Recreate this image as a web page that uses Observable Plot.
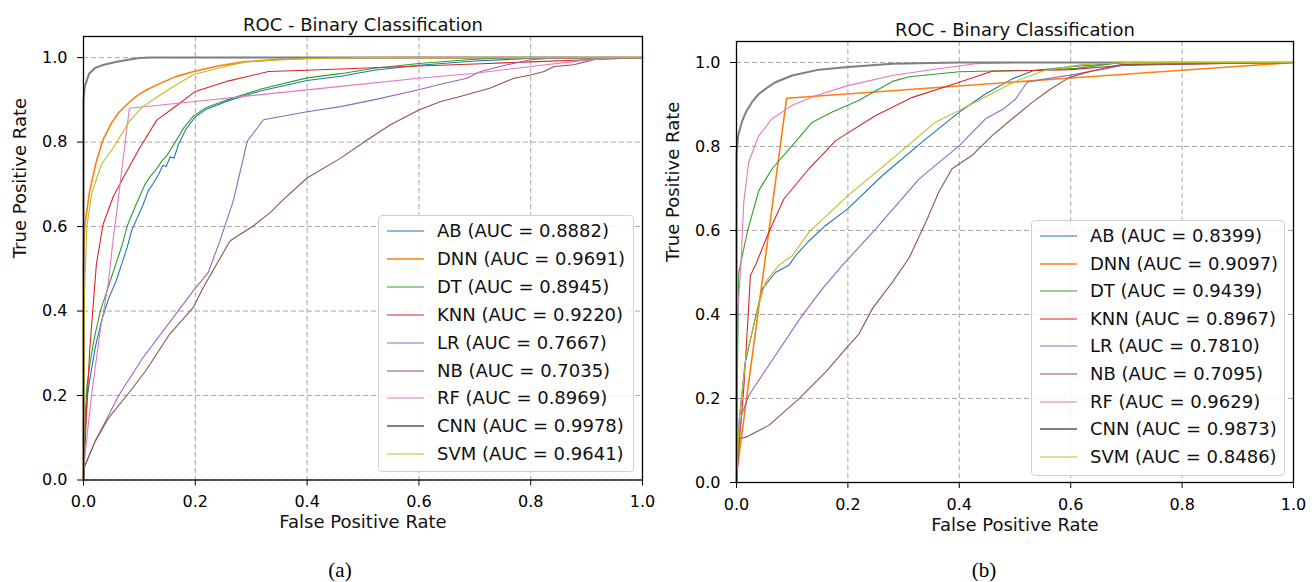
<!DOCTYPE html>
<html>
<head>
<meta charset="utf-8">
<script src="https://cdn.jsdelivr.net/npm/d3@7"></script>
<script src="https://cdn.jsdelivr.net/npm/@observablehq/plot@0.6"></script>
<style>
  html, body { margin: 0; padding: 0; background: #fff; }
  #root { position: relative; width: 1315px; height: 582px; overflow: hidden; font-family: "DejaVu Sans", sans-serif; }
  .panel { position: absolute; top: 0; }
  .legend { position: absolute; border: 1px solid #d0d0d0; border-radius: 4px; background: rgba(255,255,255,0.85); box-sizing: border-box; }
  .legrow { position: absolute; left: 0; height: 20px; width: 100%; }
  .legrow svg { position: absolute; left: 0; top: 0; }
  .legrow span { position: absolute; left: 58px; top: 0; line-height: 20px; font-size: 18px; color: #111; white-space: nowrap; }
  .caption { position: absolute; font-family: "Liberation Serif", "Times New Roman", serif; font-size: 21px; color: #000; transform: translate(-50%, -50%); }
</style>
</head>
<body>
<div id="root"></div>
<script>
// ---------- data ----------
const models = ["AB", "DNN", "DT", "KNN", "LR", "NB", "RF", "CNN", "SVM"];
const colors = ["#1f77b4", "#ff7f0e", "#2ca02c", "#d62728", "#9467bd", "#8c564b", "#e377c2", "#7f7f7f", "#bcbd22"];
const widths = [1.1, 1.6, 1.1, 1.1, 1.1, 1.1, 1.1, 2, 1.1];
const aucA = ["0.8882", "0.9691", "0.8945", "0.9220", "0.7667", "0.7035", "0.8969", "0.9978", "0.9641"];
const aucB = ["0.8399", "0.9097", "0.9439", "0.8967", "0.7810", "0.7095", "0.9629", "0.9873", "0.8486"];
const xTicks = [0, 0.2, 0.4, 0.6, 0.8, 1.0];
const yTicks = [0, 0.2, 0.4, 0.6, 0.8, 1.0];
const titleText = "ROC - Binary Classification";
const xLabel = "False Positive Rate";
const yLabel = "True Positive Rate";

// Panel (a) ROC points [FPR, TPR]
const a_AB = [[0,0],[0.003,0.12],[0.007,0.2],[0.014,0.26],[0.022,0.32],[0.033,0.38],[0.045,0.43],[0.058,0.47],[0.068,0.51],[0.078,0.55],[0.086,0.59],[0.096,0.62],[0.106,0.65],[0.116,0.685],[0.126,0.705],[0.135,0.725],[0.142,0.745],[0.148,0.742],[0.155,0.765],[0.162,0.762],[0.17,0.795],[0.183,0.83],[0.2,0.86],[0.22,0.878],[0.257,0.897],[0.316,0.921],[0.4,0.946],[0.46,0.956],[0.52,0.97],[0.6,0.982],[0.7,0.992],[0.8,0.998],[1,1]];
const a_DNN = [[0,0],[0,0.5],[0.002,0.6],[0.011,0.684],[0.023,0.754],[0.035,0.806],[0.05,0.845],[0.063,0.87],[0.08,0.892],[0.096,0.91],[0.115,0.925],[0.137,0.939],[0.165,0.955],[0.197,0.967],[0.24,0.98],[0.286,0.99],[0.35,0.996],[0.45,0.999],[0.55,1],[1,1]];
const a_DT = [[0,0],[0.003,0.15],[0.006,0.22],[0.012,0.28],[0.02,0.34],[0.03,0.4],[0.04,0.44],[0.05,0.48],[0.06,0.52],[0.07,0.56],[0.078,0.6],[0.09,0.64],[0.1,0.67],[0.11,0.7],[0.12,0.72],[0.13,0.735],[0.14,0.755],[0.15,0.77],[0.164,0.8],[0.18,0.835],[0.197,0.862],[0.22,0.882],[0.257,0.9],[0.316,0.925],[0.4,0.952],[0.46,0.962],[0.52,0.975],[0.6,0.986],[0.7,0.996],[0.76,1],[1,1]];
const a_KNN = [[0,0],[0.005,0.148],[0.011,0.306],[0.023,0.51],[0.035,0.605],[0.053,0.67],[0.072,0.718],[0.1,0.785],[0.131,0.852],[0.165,0.885],[0.2,0.92],[0.26,0.945],[0.331,0.967],[0.4,0.97],[0.495,0.975],[0.6,0.98],[0.7,0.985],[0.8,0.99],[0.9,0.995],[1,1]];
const a_LR = [[0,0],[0,0.026],[0.021,0.092],[0.063,0.2],[0.105,0.287],[0.16,0.384],[0.196,0.447],[0.223,0.491],[0.244,0.566],[0.268,0.661],[0.293,0.802],[0.322,0.853],[0.4,0.872],[0.46,0.884],[0.519,0.9],[0.6,0.924],[0.633,0.935],[0.686,0.951],[0.71,0.967],[0.758,0.983],[0.8,0.995],[0.85,1],[1,1]];
const a_NB = [[0,0],[0,0.026],[0.021,0.092],[0.045,0.147],[0.081,0.206],[0.111,0.258],[0.154,0.345],[0.196,0.408],[0.214,0.455],[0.262,0.566],[0.304,0.602],[0.334,0.633],[0.355,0.661],[0.4,0.715],[0.46,0.762],[0.504,0.802],[0.549,0.841],[0.6,0.876],[0.639,0.896],[0.674,0.908],[0.728,0.928],[0.77,0.951],[0.8,0.959],[0.824,0.967],[0.842,0.979],[0.877,0.983],[0.913,0.995],[0.937,0.998],[1,1]];
const a_RF = [[0,0],[0.002,0.05],[0.008,0.125],[0.017,0.227],[0.029,0.345],[0.044,0.463],[0.054,0.58],[0.06,0.64],[0.07,0.75],[0.082,0.88],[0.2,0.896],[0.3,0.91],[0.46,0.932],[0.6,0.951],[0.7,0.963],[0.8,0.979],[0.88,0.991],[0.95,1],[1,1]];
const a_CNN = [[0,0],[0,0.9],[0.002,0.93],[0.01,0.962],[0.02,0.975],[0.036,0.983],[0.06,0.99],[0.08,0.995],[0.1,0.999],[0.12,1],[1,1]];
const a_SVM = [[0,0],[0.002,0.45],[0.006,0.6],[0.015,0.68],[0.032,0.747],[0.053,0.786],[0.082,0.849],[0.106,0.884],[0.13,0.905],[0.155,0.927],[0.197,0.96],[0.24,0.975],[0.29,0.99],[0.4,0.998],[0.5,1],[1,1]];

// Panel (b) ROC points [FPR, TPR]
const b_AB = [[0,0],[0.005,0.15],[0.015,0.28],[0.032,0.382],[0.046,0.461],[0.07,0.5],[0.094,0.517],[0.106,0.54],[0.13,0.575],[0.16,0.612],[0.2,0.652],[0.262,0.731],[0.34,0.818],[0.4,0.882],[0.447,0.925],[0.495,0.961],[0.534,0.981],[0.6,0.99],[0.7,1],[1,1]];
const b_DNN = [[0,0],[0.001,0.03],[0.09,0.915],[0.6,0.963],[1,1]];
const b_DT = [[0,0],[0.002,0.3],[0.004,0.5],[0.02,0.6],[0.04,0.695],[0.064,0.747],[0.1,0.802],[0.136,0.858],[0.172,0.882],[0.22,0.91],[0.28,0.955],[0.31,0.966],[0.4,0.978],[0.5,0.981],[0.534,0.981],[0.612,0.986],[0.69,1],[1,1]];
const b_KNN = [[0,0],[0.005,0.096],[0.013,0.223],[0.022,0.421],[0.025,0.493],[0.034,0.517],[0.058,0.596],[0.085,0.675],[0.13,0.747],[0.178,0.814],[0.25,0.874],[0.316,0.917],[0.4,0.953],[0.459,0.979],[0.528,0.981],[0.6,0.983],[0.69,0.993],[0.8,0.996],[1,1]];
const b_LR = [[0,0],[0,0.05],[0.009,0.16],[0.022,0.207],[0.058,0.279],[0.118,0.398],[0.154,0.461],[0.19,0.517],[0.25,0.604],[0.328,0.723],[0.4,0.802],[0.447,0.866],[0.48,0.89],[0.501,0.913],[0.522,0.953],[0.55,0.96],[0.6,0.97],[0.7,0.995],[1,1]];
const b_NB = [[0,0],[0.004,0.104],[0.017,0.108],[0.058,0.136],[0.112,0.199],[0.16,0.263],[0.196,0.318],[0.22,0.354],[0.244,0.414],[0.28,0.477],[0.31,0.535],[0.34,0.62],[0.363,0.691],[0.387,0.747],[0.423,0.779],[0.459,0.826],[0.495,0.866],[0.528,0.902],[0.564,0.937],[0.597,0.964],[0.636,0.979],[0.69,0.995],[1,1]];
const b_RF = [[0,0],[0.002,0.4],[0.008,0.52],[0.013,0.667],[0.022,0.763],[0.04,0.826],[0.064,0.866],[0.1,0.898],[0.142,0.921],[0.2,0.945],[0.28,0.969],[0.34,0.981],[0.429,0.997],[0.5,1],[1,1]];
const b_CNN = [[0,0],[0,0.78],[0.003,0.826],[0.01,0.86],[0.017,0.882],[0.028,0.906],[0.04,0.925],[0.055,0.94],[0.07,0.953],[0.1,0.969],[0.148,0.983],[0.2,0.989],[0.28,0.997],[0.4,1],[1,1]];
const b_SVM = [[0,0],[0.005,0.15],[0.017,0.3],[0.04,0.421],[0.052,0.477],[0.076,0.517],[0.1,0.54],[0.13,0.596],[0.2,0.683],[0.28,0.771],[0.357,0.858],[0.4,0.886],[0.45,0.92],[0.5,0.955],[0.55,0.98],[0.62,0.995],[0.7,1],[1,1]];

const seriesA = [a_AB, a_DNN, a_DT, a_KNN, a_LR, a_NB, a_RF, a_CNN, a_SVM];
const seriesB = [b_AB, b_DNN, b_DT, b_KNN, b_LR, b_NB, b_RF, b_CNN, b_SVM];

// ---------- drawing ----------
const root = document.getElementById("root");

function makePanel(cfg) {
  const marks = [
    Plot.gridX(xTicks, {stroke: "#a8a8a8", strokeOpacity: 1, strokeWidth: 1, strokeDasharray: "5,3"}),
    Plot.gridY(yTicks, {stroke: "#a8a8a8", strokeOpacity: 1, strokeWidth: 1, strokeDasharray: "5,3"}),
  ];
  cfg.series.forEach((pts, i) => {
    marks.push(Plot.line(pts, {x: d => d[0], y: d => d[1], stroke: colors[i], strokeWidth: widths[i], curve: "linear"}));
  });
  marks.push(
    Plot.frame({stroke: "#000", strokeWidth: 1.3}),
    Plot.axisX({ticks: xTicks, tickFormat: d => d.toFixed(1), tickSize: 6, tickPadding: 10, label: null, fontSize: 16, stroke: "#000"}),
    Plot.axisY({ticks: yTicks, tickFormat: d => d.toFixed(1), tickSize: 6, tickPadding: 10, label: null, fontSize: 16, stroke: "#000"}),
    Plot.text([titleText], {text: d => d, frameAnchor: "top", dy: -18, fontSize: 18, fill: "#111"}),
    Plot.text([xLabel], {text: d => d, frameAnchor: "bottom", dy: 48, fontSize: 18, fill: "#111"}),
    Plot.text([yLabel], {text: d => d, frameAnchor: "left", dx: -63, rotate: -90, fontSize: 18, fill: "#111"})
  );
  const svg = Plot.plot({
    width: cfg.width,
    height: 545,
    marginLeft: cfg.ml,
    marginRight: cfg.mr,
    marginTop: cfg.mt,
    marginBottom: cfg.mb,
    x: {domain: [0, 1]},
    y: {domain: [0, 1.05]},
    style: {fontFamily: "DejaVu Sans", fontSize: "16px", color: "#000", background: "transparent", overflow: "visible"},
    marks
  });
  const wrap = document.createElement("div");
  wrap.className = "panel";
  wrap.style.left = cfg.left + "px";
  wrap.appendChild(svg);
  root.appendChild(wrap);

  // legend
  const leg = document.createElement("div");
  leg.className = "legend";
  leg.style.left = cfg.leg.left + "px";
  leg.style.top = cfg.leg.top + "px";
  leg.style.width = cfg.leg.w + "px";
  leg.style.height = cfg.leg.h + "px";
  models.forEach((m, i) => {
    const row = document.createElement("div");
    row.className = "legrow";
    row.style.top = (cfg.leg.first - 10 + i * cfg.leg.step) + "px";
    row.innerHTML = `<svg width="50" height="20"><line x1="8" x2="45" y1="10" y2="10" stroke="${colors[i]}" stroke-width="${widths[i]}"/></svg><span>${m} (AUC = ${cfg.auc[i]})</span>`;
    leg.appendChild(row);
  });
  root.appendChild(leg);

  const cap = document.createElement("div");
  cap.className = "caption";
  cap.style.left = cfg.cap.x + "px";
  cap.style.top = cfg.cap.y + "px";
  cap.textContent = cfg.cap.text;
  root.appendChild(cap);
}

makePanel({
  series: seriesA, auc: aucA, left: 0, width: 657,
  ml: 83, mr: 15, mt: 36, mb: 65.5,
  leg: {left: 378, top: 215, w: 256, h: 257, first: 15, step: 27.9},
  cap: {x: 340, y: 570, text: "(a)"}
});
makePanel({
  series: seriesB, auc: aucB, left: 657, width: 658,
  ml: 79, mr: 22, mt: 41, mb: 63,
  leg: {left: 1031, top: 220, w: 254, h: 256, first: 15, step: 27.6},
  cap: {x: 984, y: 570, text: "(b)"}
});
</script>
</body>
</html>
